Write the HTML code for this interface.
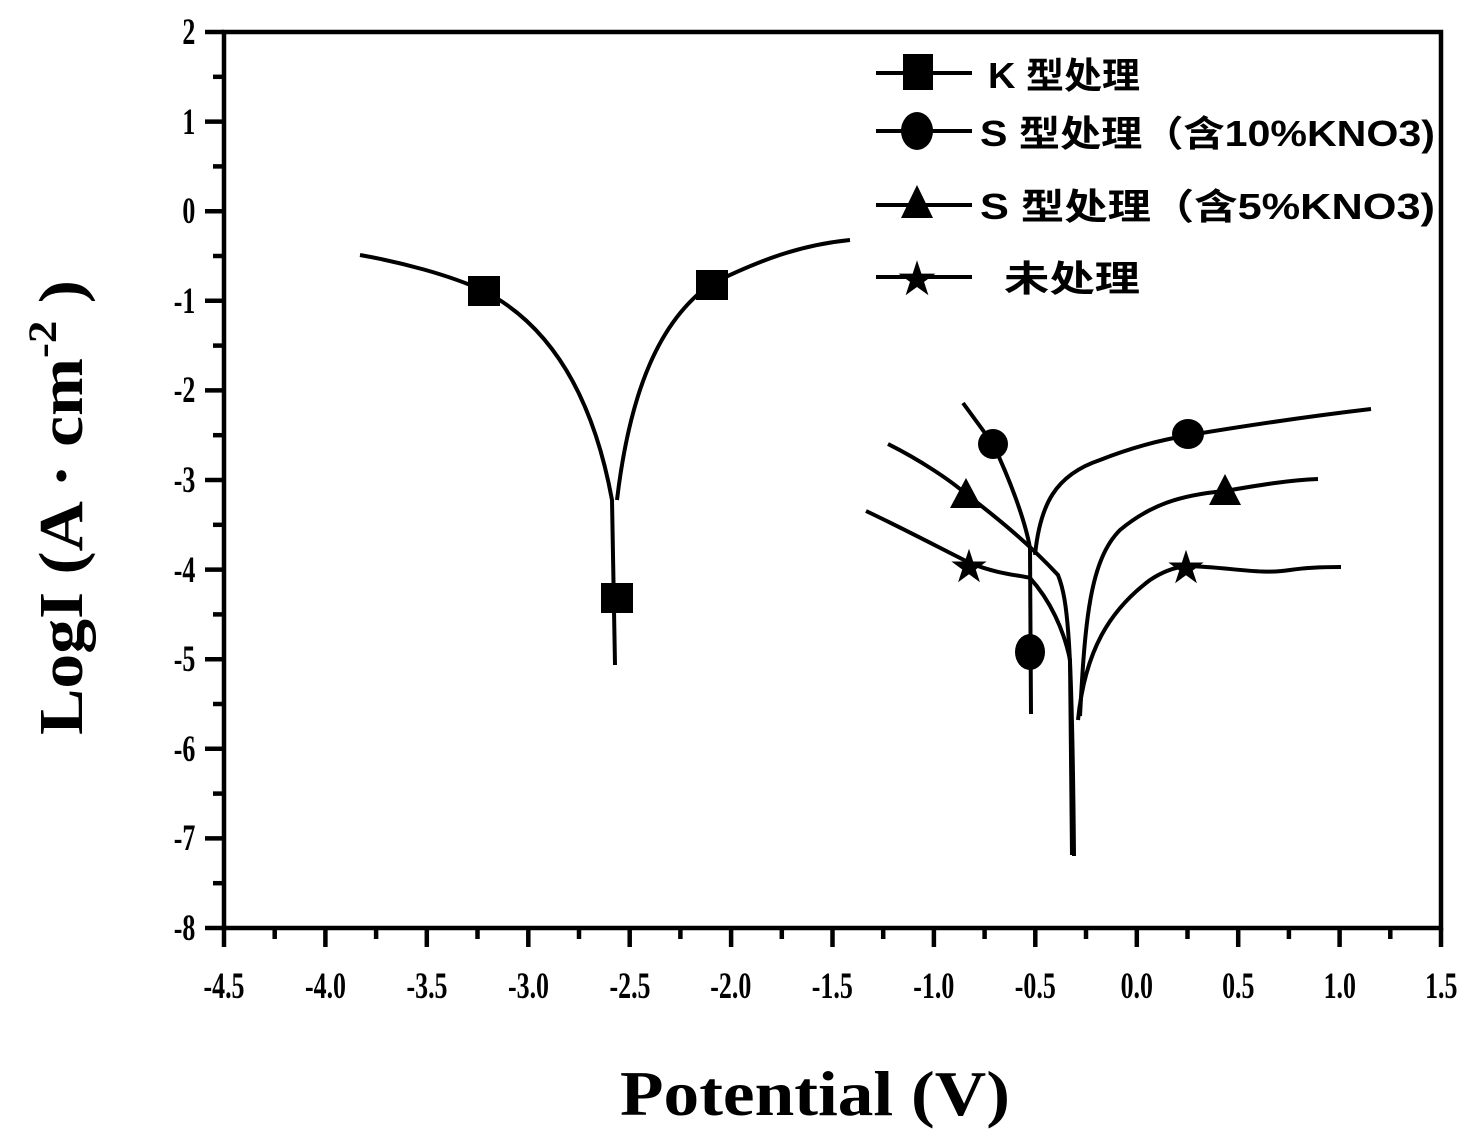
<!DOCTYPE html>
<html><head><meta charset="utf-8"><style>html,body{margin:0;padding:0;background:#fff}svg{display:block}</style></head>
<body>
<svg width="1483" height="1145" viewBox="0 0 1483 1145" xmlns="http://www.w3.org/2000/svg">
<rect width="1483" height="1145" fill="#fff"/>
<g stroke="#000" stroke-width="4.5" fill="none">
<rect x="224" y="32" width="1217" height="896"/>
</g>
<g stroke="#000" stroke-width="4.5">
<line x1="205" y1="32" x2="224" y2="32"/><line x1="205" y1="121.6" x2="224" y2="121.6"/><line x1="205" y1="211.2" x2="224" y2="211.2"/><line x1="205" y1="300.8" x2="224" y2="300.8"/><line x1="205" y1="390.4" x2="224" y2="390.4"/><line x1="205" y1="480" x2="224" y2="480"/><line x1="205" y1="569.6" x2="224" y2="569.6"/><line x1="205" y1="659.2" x2="224" y2="659.2"/><line x1="205" y1="748.8" x2="224" y2="748.8"/><line x1="205" y1="838.4" x2="224" y2="838.4"/><line x1="205" y1="928" x2="224" y2="928"/>
<line x1="213" y1="76.8" x2="224" y2="76.8"/><line x1="213" y1="166.4" x2="224" y2="166.4"/><line x1="213" y1="256" x2="224" y2="256"/><line x1="213" y1="345.6" x2="224" y2="345.6"/><line x1="213" y1="435.2" x2="224" y2="435.2"/><line x1="213" y1="524.8" x2="224" y2="524.8"/><line x1="213" y1="614.4" x2="224" y2="614.4"/><line x1="213" y1="704" x2="224" y2="704"/><line x1="213" y1="793.6" x2="224" y2="793.6"/><line x1="213" y1="883.2" x2="224" y2="883.2"/>
<line x1="224" y1="928" x2="224" y2="947"/><line x1="325.4" y1="928" x2="325.4" y2="947"/><line x1="426.8" y1="928" x2="426.8" y2="947"/><line x1="528.3" y1="928" x2="528.3" y2="947"/><line x1="629.7" y1="928" x2="629.7" y2="947"/><line x1="731.1" y1="928" x2="731.1" y2="947"/><line x1="832.5" y1="928" x2="832.5" y2="947"/><line x1="933.9" y1="928" x2="933.9" y2="947"/><line x1="1035.3" y1="928" x2="1035.3" y2="947"/><line x1="1136.8" y1="928" x2="1136.8" y2="947"/><line x1="1238.2" y1="928" x2="1238.2" y2="947"/><line x1="1339.6" y1="928" x2="1339.6" y2="947"/><line x1="1441" y1="928" x2="1441" y2="947"/>
<line x1="274.7" y1="928" x2="274.7" y2="939"/><line x1="376.1" y1="928" x2="376.1" y2="939"/><line x1="477.5" y1="928" x2="477.5" y2="939"/><line x1="579" y1="928" x2="579" y2="939"/><line x1="680.4" y1="928" x2="680.4" y2="939"/><line x1="781.8" y1="928" x2="781.8" y2="939"/><line x1="883.2" y1="928" x2="883.2" y2="939"/><line x1="984.6" y1="928" x2="984.6" y2="939"/><line x1="1086" y1="928" x2="1086" y2="939"/><line x1="1187.5" y1="928" x2="1187.5" y2="939"/><line x1="1288.9" y1="928" x2="1288.9" y2="939"/><line x1="1390.3" y1="928" x2="1390.3" y2="939"/>
</g>
<g transform="scale(0.7,1)" font-family="Liberation Serif, serif" font-weight="bold" font-size="37" text-anchor="end">
<text x="279" y="44">2</text><text x="279" y="134">1</text><text x="279" y="223">0</text><text x="279" y="313">-1</text><text x="279" y="402">-2</text><text x="279" y="492">-3</text><text x="279" y="582">-4</text><text x="279" y="671">-5</text><text x="279" y="761">-6</text><text x="279" y="850">-7</text><text x="279" y="940">-8</text>
</g>
<g transform="scale(0.7,1)" font-family="Liberation Serif, serif" font-weight="bold" font-size="37" text-anchor="middle">
<text x="320" y="998">-4.5</text><text x="465" y="998">-4.0</text><text x="610" y="998">-3.5</text><text x="755" y="998">-3.0</text><text x="900" y="998">-2.5</text><text x="1044" y="998">-2.0</text><text x="1189" y="998">-1.5</text><text x="1334" y="998">-1.0</text><text x="1479" y="998">-0.5</text><text x="1624" y="998">0.0</text><text x="1769" y="998">0.5</text><text x="1914" y="998">1.0</text><text x="2059" y="998">1.5</text>
</g>
<text x="620" y="1115" textLength="390" lengthAdjust="spacingAndGlyphs" font-family="Liberation Serif, serif" font-weight="bold" font-size="64">Potential (V)</text>
<text transform="translate(82,735) rotate(-90)" textLength="455" lengthAdjust="spacingAndGlyphs" font-family="Liberation Serif, serif" font-weight="bold" font-size="62">LogI (A · cm<tspan font-size="40" dy="-26">-2</tspan><tspan dy="26"> )</tspan></text>

<g fill="none" stroke="#000" stroke-width="4" stroke-linejoin="round">
<path d="M360,255 C400,262 450,275 484,291 C540,320 590,380 612,500 L615,665"/>
<path d="M617,500 C630,390 660,320 711,284 C760,260 800,245 850,240"/>
<path d="M963,403 L993,444 C1010,480 1025,520 1030,548 L1031,714"/>
<path d="M1035,555 C1040,505 1055,475 1100,460 C1130,448 1160,440 1190,435 C1250,425 1320,415 1371,409"/>
<path d="M888,444 C920,460 950,480 966,494 C1000,520 1030,545 1058,575 C1068,600 1072,640 1074,856"/>
<path d="M1080,716 C1085,620 1090,560 1120,530 C1150,505 1180,495 1225,491 C1260,485 1290,480 1318,479"/>
<path d="M866,511 C900,527 940,548 970,563 C1000,575 1020,575 1030,578 C1050,600 1064,630 1070,660 L1072,855"/>
<path d="M1078,720 C1085,650 1110,610 1150,580 C1165,570 1178,567 1186,566 C1230,567 1260,575 1290,570 C1310,567 1330,567 1341,567"/>
</g>
<g fill="#000">
<rect x="468" y="276" width="32" height="30"/><rect x="696" y="270" width="32" height="30"/><rect x="601" y="583" width="32" height="30"/>
<ellipse cx="993" cy="444" rx="15" ry="15"/><ellipse cx="1188" cy="434" rx="16" ry="15"/><ellipse cx="1030" cy="652" rx="15" ry="18"/>
<polygon points="966,478 982,508 950,508"/><polygon points="1225,474 1241,505 1209,505"/>
</g>
<g font-family="DejaVu Sans, sans-serif" font-size="46" text-anchor="middle">
<text x="969" y="582">★</text><text x="1186" y="583">★</text>
</g>

<g stroke="#000" stroke-width="4">
<line x1="876" y1="73" x2="972" y2="73"/><line x1="876" y1="131" x2="972" y2="131"/><line x1="876" y1="205" x2="972" y2="205"/><line x1="876" y1="277" x2="972" y2="277"/>
</g>
<g fill="#000">
<rect x="903" y="54" width="30" height="36"/>
<ellipse cx="917" cy="131" rx="16" ry="19"/>
<polygon points="917,185 933,218 901,218"/>
</g>
<text x="917" y="295" font-family="DejaVu Sans, sans-serif" font-size="48" text-anchor="middle">★</text>
<g font-family="Liberation Sans, Noto Sans CJK SC, sans-serif" font-weight="bold" font-size="36">
<text x="988" y="88" textLength="152" lengthAdjust="spacingAndGlyphs">K 型处理</text>
<text x="980" y="146" textLength="455" lengthAdjust="spacingAndGlyphs">S 型处理（含10%KNO3)</text>
<text x="980" y="219" textLength="455" lengthAdjust="spacingAndGlyphs">S 型处理（含5%KNO3)</text>
<text x="1004" y="291" textLength="136" lengthAdjust="spacingAndGlyphs">未处理</text>
</g>
</svg>
</body></html>
